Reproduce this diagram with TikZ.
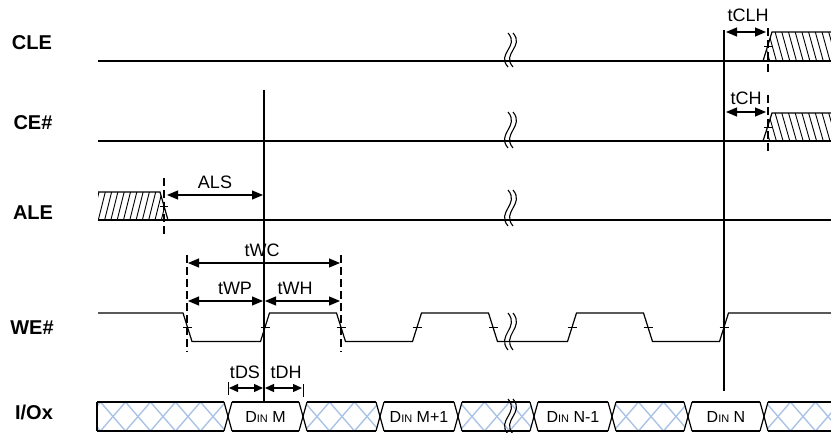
\documentclass[tikz,border=0pt]{standalone}
\usepackage{fontspec}
\setmainfont{Liberation Sans}
\usetikzlibrary{arrows.meta}
\definecolor{xblue}{RGB}{170,195,230}
\tikzset{
 sig/.style={line width=1.2pt, line join=miter},
 vline/.style={line width=1.2pt},
 dashv/.style={line width=1.2pt, dash pattern=on 8pt off 4pt},
 hl/.style={line width=0.9pt},
 xh/.style={line width=1.4pt, draw=xblue},
 dim/.style={line width=1.2pt, {Triangle[length=11pt,width=9pt]}-{Triangle[length=11pt,width=9pt]}},
 sdim/.style={line width=1.2pt, {Triangle[length=9pt,width=8pt]}-{Triangle[length=9pt,width=8pt]}},
 lbl/.style={font=\fontsize{20}{22}\selectfont\bfseries, inner sep=0pt},
 tl/.style={font=\fontsize{18}{20}\selectfont, inner sep=0pt},
 din/.style={inner sep=0pt},
}
\newcommand\xhatch[2]{%
 \begin{scope}
 \clip (#1+4,402) -- (#2-4,402) -- (#2,416.5) -- (#2-4,431) -- (#1+4,431) -- (#1,416.5) -- cycle;
 \foreach \c in {-1,...,6} {
   \draw[xh] ({#1+14+25*\c-12.5},402) -- ({#1+14+25*\c+12.5},431);
   \draw[xh] ({#1+14+25*\c+12.5},402) -- ({#1+14+25*\c-12.5},431);
 }
 \end{scope}}
\newcommand\brk[2]{%
 \draw[line width=1.1pt] (508,#1) .. controls (520,{#1+0.4*(#2-#1)}) and (496,{#1+0.6*(#2-#1)}) .. (508,#2);
 \draw[line width=1.1pt] (513,#1) .. controls (525,{#1+0.4*(#2-#1)}) and (501,{#1+0.6*(#2-#1)}) .. (513,#2);}
\newcommand\dinlbl[1]{{\fontsize{16}{18}\selectfont D\fontsize{11}{12}\selectfont IN\fontsize{16}{18}\selectfont\ #1}}
\begin{document}
\begin{tikzpicture}[x=1pt,y=-1pt]
\useasboundingbox (0,0) rectangle (831,433);
% signal names
\node[lbl] (nCLE) at (32,43) {CLE};
\node[lbl] (nCE) at (33,123) {CE\#};
\node[lbl] (nALE) at (33,213) {ALE};
\node[lbl] (nWE) at (32,328) {WE\#};
\node[lbl] (nIO) at (34,412) {I/Ox};

% ---------- CLE ----------
\begin{scope}
 \clip (763,61) -- (772,32) -- (831,32) -- (831,61) -- cycle;
 \foreach \x in {755,761.7,...,845} \draw[hl] (\x,32) -- (\x+8,61);
\end{scope}
\draw[sig] (98,61) -- (831,61);
\draw[sig] (763,61) -- (772,32) -- (831,32);
\draw[hl] (763.5,46.5) -- (771.5,46.5);
\draw[dashv] (768,28) -- (768,72);
\brk{33}{67}

% ---------- CE# ----------
\begin{scope}
 \clip (763,141) -- (772,113) -- (831,113) -- (831,141) -- cycle;
 \foreach \x in {755,761.7,...,845} \draw[hl] (\x,113) -- (\x+8,141);
\end{scope}
\draw[sig] (98,141) -- (831,141);
\draw[sig] (763,141) -- (772,113) -- (831,113);
\draw[hl] (763.5,127) -- (771.5,127);
\draw[dashv] (768,95) -- (768,152);
\brk{112}{148}

% ---------- ALE ----------
\begin{scope}
 \clip (98,192) -- (160,192) -- (168,220) -- (98,220) -- cycle;
 \foreach \x in {92,98.3,...,170} \draw[hl] (\x,220) -- (\x+7,192);
\end{scope}
\draw[sig] (98,192) -- (160,192) -- (168,220);
\draw[sig] (98,220) -- (831,220);
\draw[hl] (160,206) -- (168,206);
\draw[dashv] (164,178) -- (164,234);
\brk{190}{226}

% ---------- WE# ----------
\draw[sig] (98,313) -- (183,313) -- (192,341.5) -- (260.5,341.5) -- (269.5,313)
  -- (336.5,313) -- (345.5,341.5) -- (412.5,341.5) -- (421.5,313) -- (488.5,313)
  -- (497.5,341.5) -- (567.5,341.5) -- (576.5,313) -- (643.5,313) -- (652.5,341.5)
  -- (719.5,341.5) -- (728.5,313) -- (831,313);
\foreach \m in {187.5,265,341,417,493,572,648,724}
  \draw[hl] (\m-4.5,327) -- (\m+4.5,327);
\brk{313}{350}
\draw[dashv] (187,255) -- (187,352);
\draw[dashv] (341,255) -- (341,352);

% ---------- I/Ox ----------
\begin{scope}
 \clip (97,402) -- (224,402) -- (228,416.5) -- (224,431) -- (97,431) -- cycle;
 \foreach \c in {-1,...,6} {
   \draw[xh] ({113+25*\c-12.5},402) -- ({113+25*\c+12.5},431);
   \draw[xh] ({113+25*\c+12.5},402) -- ({113+25*\c-12.5},431);
 }
\end{scope}
\xhatch{303}{380}
\xhatch{458}{534}
\xhatch{612}{688}
\xhatch{764}{845}
\draw[sig] (97,402) -- (97,431);
\draw[sig] (97,402) -- (224,402) (232,402) -- (299,402) (307,402) -- (376,402)
  (384,402) -- (454,402) (462,402) -- (530,402) (538,402) -- (608,402)
  (616,402) -- (684,402) (692,402) -- (760,402) (768,402) -- (831,402);
\draw[sig] (97,431) -- (224,431) (232,431) -- (299,431) (307,431) -- (376,431)
  (384,431) -- (454,431) (462,431) -- (530,431) (538,431) -- (608,431)
  (616,431) -- (684,431) (692,431) -- (760,431) (768,431) -- (831,431);
\foreach \b in {228,303,380,458,534,612,688,764} {
  \draw[sig] (\b-4,402) -- (\b+4,431);
  \draw[sig] (\b-4,431) -- (\b+4,402);
}
\brk{399}{434}
\node[din] (dM) at (265.5,417) {\dinlbl{M}};
\node[din] (dM1) at (419,417) {\dinlbl{M+1}};
\node[din] (dN1) at (573,417) {\dinlbl{N-1}};
\node[din] (dN) at (726,417) {\dinlbl{N}};

% ---------- reference verticals ----------
\coordinate (vAtop) at (264,90);
\coordinate (vAbot) at (264,402);
\coordinate (vBtop) at (724,30);
\coordinate (vBbot) at (724,391);
\draw[vline] (vAtop) -- (vAbot);
\draw[vline] (vBtop) -- (vBbot);

% ---------- timing annotations ----------
\node[tl] (tCLH) at (748,15) {tCLH};
\coordinate (a1) at (726,32); \coordinate (a2) at (766,32);
\draw[dim] (a1) -- (a2);
\node[tl] (tCH) at (746,98) {tCH};
\coordinate (b1) at (726,112); \coordinate (b2) at (766,112);
\draw[dim] (b1) -- (b2);

\node[tl] (ALS) at (215,182) {ALS};
\coordinate (c1) at (167,195); \coordinate (c2) at (263,195);
\draw[dim] (c1) -- (c2);

\node[tl] (tWC) at (262,250) {tWC};
\coordinate (d1) at (188,263); \coordinate (d2) at (340,263);
\draw[dim] (d1) -- (d2);
\node[tl] (tWP) at (235,288) {tWP};
\coordinate (e1) at (188,301); \coordinate (e2) at (263,301);
\draw[dim] (e1) -- (e2);
\node[tl] (tWH) at (295,288) {tWH};
\coordinate (f1) at (265,301); \coordinate (f2) at (340,301);
\draw[dim] (f1) -- (f2);

\node[tl] (tDS) at (245,372) {tDS};
\coordinate (g1) at (229,388); \coordinate (g2) at (263,388);
\draw[sdim] (g1) -- (g2);
\node[tl] (tDH) at (286,372) {tDH};
\coordinate (h1) at (265,388); \coordinate (h2) at (302,388);
\draw[sdim] (h1) -- (h2);
\draw[hl] (228,382) -- (228,395);
\draw[hl] (303,384) -- (303,397);
\end{tikzpicture}
\end{document}
